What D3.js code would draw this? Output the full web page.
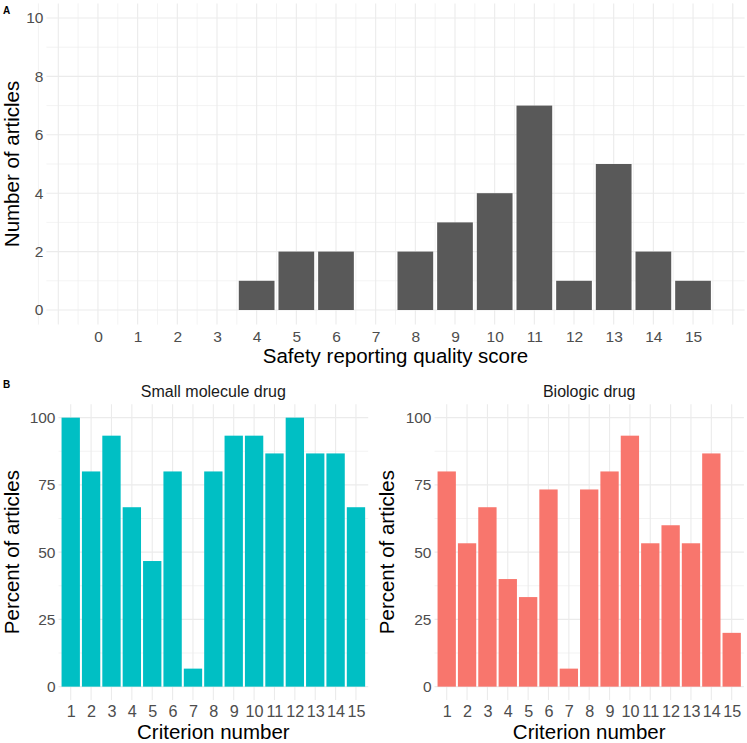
<!DOCTYPE html>
<html>
<head>
<meta charset="utf-8">
<script src="https://cdn.jsdelivr.net/npm/d3@7"></script>
<style>
  body { margin: 0; background: #fff; }
  text { font-family: "Liberation Sans", Arial, Helvetica, sans-serif; }
</style>
</head>
<body>
<div id="chart"></div>
<script>
// panel A: distribution of total scores
var scores = [4, 5, 6, 8, 9, 10, 11, 12, 13, 14, 15];
var scoreCounts = [1, 2, 2, 2, 3, 4, 7, 1, 5, 2, 1];
var scoreTicks = d3.range(0, 16);
var countTicks = [0, 2, 4, 6, 8, 10];

// panel B: percent of articles meeting each criterion
var criteria = d3.range(1, 16);
var smallMolecule = [100, 80, 93.3, 66.7, 46.7, 80, 6.7, 80, 93.3, 93.3, 86.7, 100, 86.7, 86.7, 66.7];
var biologic = [80, 53.3, 66.7, 40, 33.3, 73.3, 6.7, 73.3, 80, 93.3, 53.3, 60, 53.3, 86.7, 20];
var pctTicks = [0, 25, 50, 75, 100];

var W = 747, H = 743;
var gridCol = "#ebebeb", tickCol = "#4d4d4d";

var svg = d3.select("#chart").append("svg")
    .attr("width", W)
    .attr("height", H);

function grid(g, x0, x1, y0, y1, xs, ys, w) {
    xs.forEach(function (v) {
        g.append("line").attr("x1", v).attr("x2", v).attr("y1", y0).attr("y2", y1)
            .attr("stroke", gridCol).attr("stroke-width", w);
    });
    ys.forEach(function (v) {
        g.append("line").attr("x1", x0).attr("x2", x1).attr("y1", v).attr("y2", v)
            .attr("stroke", gridCol).attr("stroke-width", w);
    });
}

// ---------- panel A ----------
var a = { left: 46.4, right: 744.6, top: 3.4, bottom: 324.6 };
var xA = d3.scaleLinear().domain([-1.3, 16.3]).range([a.left, a.right]);
var yA = d3.scaleLinear().domain([-0.5, 10.5]).range([a.bottom, a.top]);

var gA = svg.append("g");
grid(gA, a.left, a.right, a.top, a.bottom,
    d3.range(-1, 16.5, 1).map(function (v) { return xA(v - 0.5); }).concat([xA(16)]),
    [1, 3, 5, 7, 9].map(yA), 0.6);
grid(gA, a.left, a.right, a.top, a.bottom,
    scoreTicks.concat([-1, 16]).map(xA), countTicks.map(yA), 1.1);

gA.selectAll("rect.bar")
    .data(scores)
    .join("rect")
    .attr("class", "bar")
    .attr("x", function (d) { return xA(d - 0.45); })
    .attr("width", function (d) { return xA(d + 0.45) - xA(d - 0.45); })
    .attr("y", function (d, i) { return yA(scoreCounts[i]); })
    .attr("height", function (d, i) { return yA(0) - yA(scoreCounts[i]); })
    .attr("fill", "#595959");

var axA = gA.append("g").attr("transform", `translate(0,${a.bottom})`)
    .call(d3.axisBottom(xA).tickValues(scoreTicks).tickSize(0).tickPadding(6));
axA.select(".domain").remove();
axA.selectAll("text").attr("fill", tickCol).style("font-size", "15.5px");

var ayA = gA.append("g").attr("transform", `translate(${a.left},0)`)
    .call(d3.axisLeft(yA).tickValues(countTicks).tickSize(0).tickPadding(3));
ayA.select(".domain").remove();
ayA.selectAll("text").attr("fill", tickCol).style("font-size", "15.5px");

gA.append("text")
    .attr("x", (a.left + a.right) / 2).attr("y", 363)
    .attr("text-anchor", "middle").style("font-size", "20.5px")
    .text("Safety reporting quality score");
gA.append("text")
    .attr("transform", `translate(19,${(a.top + a.bottom) / 2}) rotate(-90)`)
    .attr("text-anchor", "middle").style("font-size", "20.5px")
    .text("Number of articles");
svg.append("text").attr("x", 3).attr("y", 14)
    .style("font-size", "10px").style("font-weight", "bold").text("A");
svg.append("text").attr("x", 3).attr("y", 388)
    .style("font-size", "10px").style("font-weight", "bold").text("B");

// ---------- panel B ----------
var bTop = 404.2, bBottom = 700.1;
var yB = d3.scaleLinear().domain([-5, 105]).range([bBottom, bTop]);

function drawFacet(x0, x1, values, fill, title, titleX) {
    var g = svg.append("g");
    var x = d3.scalePoint().domain(criteria).range([x0, x1]).padding(0.6);
    var bw = x.step() * 0.9;

    grid(g, x0, x1, bTop, bBottom, [], [12.5, 37.5, 62.5, 87.5].map(yB), 0.6);
    grid(g, x0, x1, bTop, bBottom, criteria.map(x), pctTicks.map(yB), 1.1);

    g.selectAll("rect.bar")
        .data(criteria)
        .join("rect")
        .attr("class", "bar")
        .attr("x", function (d) { return x(d) - bw / 2; })
        .attr("width", bw)
        .attr("y", function (d, i) { return yB(values[i]); })
        .attr("height", function (d, i) { return yB(0) - yB(values[i]); })
        .attr("fill", fill);

    var ax = g.append("g").attr("transform", `translate(0,${bBottom})`)
        .call(d3.axisBottom(x).tickSize(0).tickPadding(5));
    ax.select(".domain").remove();
    ax.selectAll("text").attr("fill", tickCol).style("font-size", "16.2px");

    var ay = g.append("g").attr("transform", `translate(${x0},0)`)
        .call(d3.axisLeft(yB).tickValues(pctTicks).tickSize(0).tickPadding(3));
    ay.select(".domain").remove();
    ay.selectAll("text").attr("fill", tickCol).style("font-size", "15.5px");

    g.append("text")
        .attr("x", (x0 + x1) / 2).attr("y", 397)
        .attr("text-anchor", "middle").attr("fill", "#1a1a1a").style("font-size", "16px")
        .text(title);
    g.append("text")
        .attr("x", (x0 + x1) / 2).attr("y", 739)
        .attr("text-anchor", "middle").style("font-size", "20.5px")
        .text("Criterion number");
    g.append("text")
        .attr("transform", `translate(${titleX},${(bTop + bBottom) / 2}) rotate(-90)`)
        .attr("text-anchor", "middle").style("font-size", "20.5px")
        .text("Percent of articles");
}

drawFacet(58.5, 368.2, smallMolecule, "#00BFC4", "Small molecule drug", 19);
drawFacet(434.5, 743.9, biologic, "#F8766D", "Biologic drug", 394);
</script>
</body>
</html>
